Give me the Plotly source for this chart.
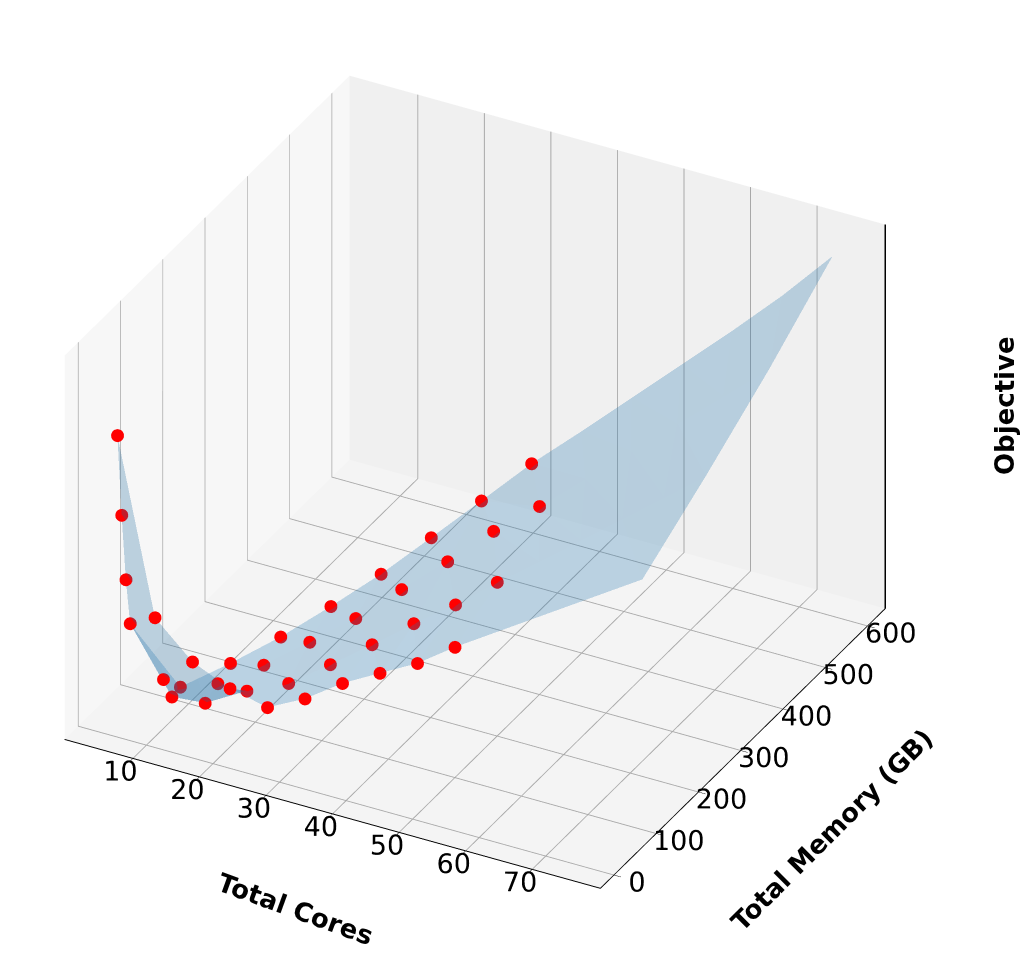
import plotly.graph_objects as go

# configurations: cores x (GB of memory per core)
cores = [5, 10, 15, 20, 25, 30, 35, 40, 45, 50, 55, 60, 65, 70, 75]

mem_2gb = [10, 20, 30, 40, 50, 60, 70, 80, 90, 100, 110, 120, 130, 140, 150]
mem_4gb = [20, 40, 60, 80, 100, 120, 140, 160, 180, 200, 220, 240, 260, 280, 300]
mem_6gb = [30, 60, 90, 120, 150, 180, 210, 240, 270, 300, 330, 360, 390, 420, 450]
mem_8gb = [40, 80, 120, 160, 200, 240, 280, 320, 360, 400, 440, 480, 520, 560, 600]

# objective (arbitrary units, no ticks on z)
obj_2gb = [78.5, 31, 20.5, 14.7, 11, 14.7, 20.2, 24.3, 28.3, 34, 39, 44, 49, 54, 59]
obj_4gb = [56, 12.2, 6.1, 9.6, 11.9, 17.2, 22.8, 28.7, 34, 40.3, 46, 52, 58, 64, 70]
obj_6gb = [37.6, 5.3, 8, 12.1, 17.4, 22.9, 29.8, 36.4, 43.7, 49.5, 56, 62.5, 69, 75.5, 82]
obj_8gb = [24.7, 5.7, 10.1, 15.2, 21.4, 28.1, 35.9, 43.8, 51.8, 58.5, 65.5, 72.5, 79.5, 87, 95.6]

# number of evaluated (plotted as points) configurations in each row
n_eval_2gb = 10
n_eval_4gb = 10
n_eval_6gb = 10
n_eval_8gb = 9

core_ticks = [10, 20, 30, 40, 50, 60, 70]
mem_ticks = [0, 100, 200, 300, 400, 500, 600]

x_range = [-0.25, 80.25]
y_range = [-32, 642]
z_range = [-1, 102]

rows = [
    (mem_2gb, obj_2gb, n_eval_2gb),
    (mem_4gb, obj_4gb, n_eval_4gb),
    (mem_6gb, obj_6gb, n_eval_6gb),
    (mem_8gb, obj_8gb, n_eval_8gb),
]

surf_x, surf_y, surf_z = [], [], []
pts_x, pts_y, pts_z = [], [], []
for mem, obj, n in rows:
    surf_x += cores
    surf_y += mem
    surf_z += obj
    pts_x += cores[:n]
    pts_y += mem[:n]
    pts_z += obj[:n]

fig = go.Figure()

fig.add_trace(go.Scatter3d(
    x=pts_x, y=pts_y, z=pts_z,
    mode='markers',
    marker=dict(size=7.5, color='red', line=dict(width=0)),
    showlegend=False,
))

# triangulated surface (delaunay in the x-y plane, like plot_trisurf)
fig.add_trace(go.Mesh3d(
    x=surf_x, y=surf_y, z=surf_z,
    color='#1f77b4',
    opacity=0.27,
    flatshading=True,
    lighting=dict(ambient=0.85, diffuse=0.45, specular=0.0, roughness=1.0),
    hoverinfo='skip',
    showscale=False,
))

# z spine on the right-hand vertical edge, as matplotlib draws it
fig.add_trace(go.Scatter3d(
    x=[x_range[1], x_range[1]], y=[y_range[1], y_range[1]], z=z_range,
    mode='lines',
    line=dict(color='black', width=3),
    hoverinfo='skip',
    showlegend=False,
))

axis_common = dict(
    showbackground=True,
    gridcolor='#a8a8a8',
    gridwidth=2,
    showline=True,
    linecolor='black',
    linewidth=2,
    ticks='outside',
    tickcolor='black',
    ticklen=8,
    tickangle=0,
    showspikes=False,
    zeroline=False,
    tickfont=dict(size=18, color='black'),
    title=dict(text=''),
)

label_style = dict(xref='paper', yref='paper', xanchor='center', yanchor='middle',
                   showarrow=False, font=dict(size=26, color='black'))

fig.update_layout(
    width=1032,
    height=960,
    margin=dict(l=0, r=0, t=0, b=0),
    paper_bgcolor='white',
    font=dict(family='DejaVu Sans', size=18, color='black'),
    showlegend=False,
    scene=dict(
        domain=dict(x=[0, 0.905], y=[0.012, 1.0]),
        xaxis=dict(
            range=x_range,
            tickvals=core_ticks,
            backgroundcolor='#f7f7f7',
            **axis_common
        ),
        yaxis=dict(
            range=y_range,
            tickvals=mem_ticks,
            backgroundcolor='#f0f0f0',
            **axis_common
        ),
        zaxis=dict(
            title=dict(text=''),
            range=z_range,
            showticklabels=False,
            showgrid=False,
            showbackground=True,
            backgroundcolor='#f4f4f4',
            showline=False,
            ticks='',
            showspikes=False,
            zeroline=False,
        ),
        aspectmode='manual',
        aspectratio=dict(x=1.28, y=1.28, z=0.95),
        camera=dict(
            eye=dict(x=0.801, y=-1.506, z=1.045),
            center=dict(x=0, y=0, z=0),
            projection=dict(type='orthographic'),
        ),
    ),
    annotations=[
        dict(text='<b>Total Cores</b>', x=287 / 1032, y=1 - 901 / 960,
             textangle=20, **label_style),
        dict(text='<b>Total Memory (GB)</b>', x=824 / 1032, y=1 - 822 / 960,
             textangle=-45, **label_style),
        dict(text='<b>Objective</b>', x=997 / 1032, y=1 - 398 / 960,
             textangle=-90, **label_style),
    ],
)

fig.write_html("out.html")
